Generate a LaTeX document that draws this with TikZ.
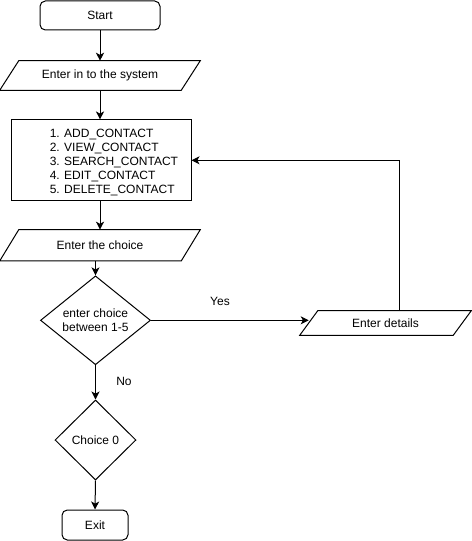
\documentclass[tikz,border=0pt]{standalone}
\usepackage{fontspec}
\setmainfont{Liberation Sans}
\usetikzlibrary{arrows.meta,shapes.geometric,calc}
\begin{document}
\begin{tikzpicture}[x=0.75pt,y=-0.75pt,
  line/.style={line width=0.75pt},
  arr/.style={line, -{Stealth[length=6pt,width=6pt,inset=1.6pt]}},
  txt/.style={font=\fontsize{9}{10.5}\selectfont, inner sep=0pt},
  term/.style={txt, draw, line, rounded corners=4pt},
  box/.style={txt, draw, line},
  para/.style={txt},
  dia/.style={txt, draw, line, diamond, align=center}
]
\useasboundingbox (0,0) rectangle (471,541);

% nodes
\node[term, minimum width=90pt, minimum height=21.75pt] (start) at (100,15.5) {Start};
\node[para, minimum width=150pt, minimum height=21.75pt] (enter1) at (100,75.5) {Enter in to the system};
\node[box, minimum width=135pt, minimum height=60.5pt] (menu) at (101,160.3) {};
\node[txt, anchor=west, align=left] (menutext) at ($(menu.west)+(39,2)$) {1. ADD\_CONTACT\\2. VIEW\_CONTACT\\3. SEARCH\_CONTACT\\4. EDIT\_CONTACT\\5. DELETE\_CONTACT};
\node[para, minimum width=150pt, minimum height=23pt] (choice1) at (100,245.3) {Enter the choice};
\node[dia, minimum width=82.5pt, minimum height=60pt] (dia1) at (95.5,320.3) {enter choice\\between 1-5};
\node[para, minimum width=128.25pt, minimum height=18pt] (details) at (385.5,323) {Enter details};
\node[dia, minimum width=60.75pt, minimum height=60pt] (dia2) at (95.5,440) {Choice 0};
\node[term, minimum width=49.5pt, minimum height=22.5pt] (exit) at (95,525) {Exit};

% parallelogram outlines
\draw[line] ($(enter1.north west)+(19,0)$) -- (enter1.north east) -- ($(enter1.south east)+(-19,0)$) -- (enter1.south west) -- cycle;
\draw[line] ($(choice1.north west)+(19,0)$) -- (choice1.north east) -- ($(choice1.south east)+(-19,0)$) -- (choice1.south west) -- cycle;
\draw[line] ($(details.north west)+(18,0)$) -- (details.north east) -- ($(details.south east)+(-18,0)$) -- (details.south west) -- cycle;

% connectors
\draw[arr] (start.south) -- (enter1.north);
\draw[arr] (enter1.south) -- (enter1.south |- menu.north);
\draw[arr] (menu.south -| enter1.south) -- (choice1.north);
\draw[arr] (dia1.north |- choice1.south) -- (dia1.north);
\draw[arr] (dia1.east) -- ($(dia1.east -| details.west)+(9,0)$);
\draw[arr] ($(details.north)+(14,0)$) |- (menu.east);
\draw[arr] (dia1.south) -- (dia2.north);
\draw[arr] (dia2.south) -- (exit.north);

% labels
\node[txt] (yes) at (220,301) {Yes};
\node[txt] (no) at (124,381) {No};
\end{tikzpicture}
\end{document}
